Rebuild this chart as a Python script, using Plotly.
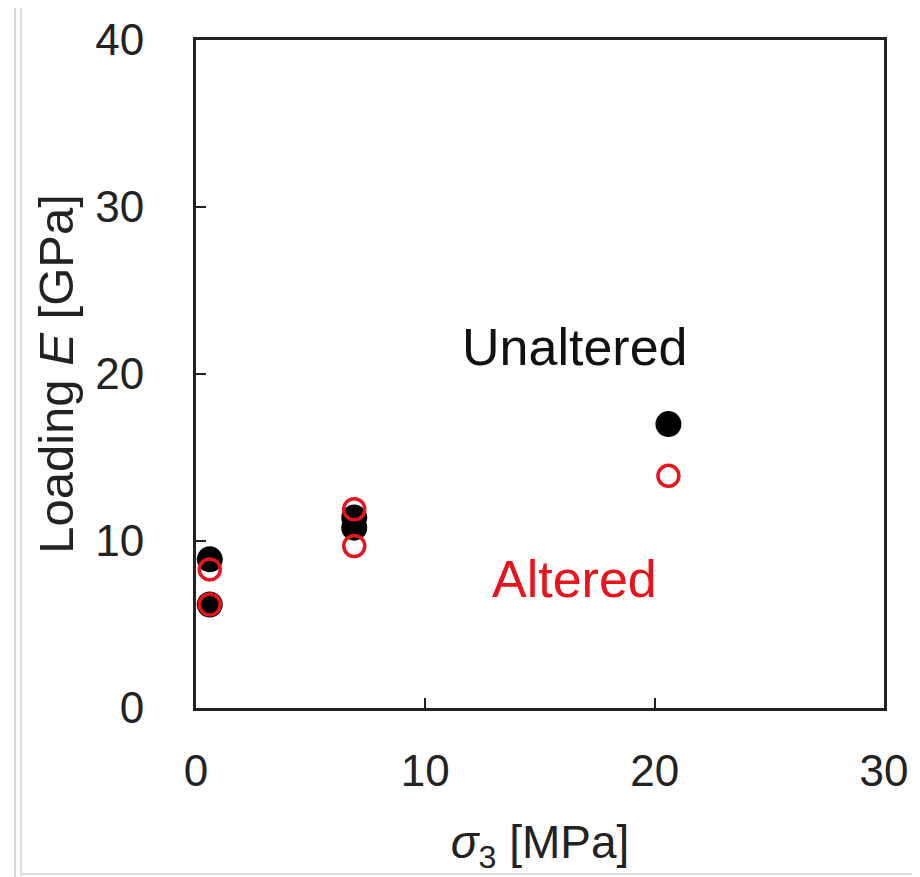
import plotly.graph_objects as go

unaltered_x = [0.6, 0.6, 6.9, 6.9, 20.6]
unaltered_y = [8.9, 6.2, 11.4, 10.8, 17.0]
altered_x = [0.6, 0.6, 6.9, 6.9, 20.6]
altered_y = [8.3, 6.2, 11.9, 9.7, 13.9]

x_ticks = [0, 10, 20, 30]
y_ticks = [0, 10, 20, 30, 40]

FONT = "Liberation Sans, Arial, sans-serif"
TXT = "#222222"

fig = go.Figure()
fig.add_trace(go.Scatter(
    x=unaltered_x, y=unaltered_y, mode="markers", name="Unaltered",
    marker=dict(symbol="circle", size=26, color="black", line=dict(width=0)),
    showlegend=False))
fig.add_trace(go.Scatter(
    x=altered_x, y=altered_y, mode="markers", name="Altered",
    marker=dict(symbol="circle-open", size=21, color="#e8141c", line=dict(width=3.5)),
    showlegend=False))

fig.add_annotation(x=16.5, y=21.6, text="Unaltered", showarrow=False,
                   font=dict(family=FONT, size=52, color="#111111"), xref="x", yref="y")
fig.add_annotation(x=16.5, y=7.7, text="Altered", showarrow=False,
                   font=dict(family=FONT, size=52, color="#e8141c"), xref="x", yref="y")

axis_common = dict(
    showgrid=False, zeroline=False, showline=True, linecolor="#222222", linewidth=3,
    mirror=True, ticks="inside", ticklen=10, tickwidth=2, tickcolor="#222222",
    tickfont=dict(family=FONT, size=44, color=TXT), automargin=False,
)

fig.update_layout(
    width=912, height=869,
    margin=dict(l=188, r=36, t=32, b=169),
    paper_bgcolor="white", plot_bgcolor="white",
    xaxis=dict(range=[0, 30], tickvals=x_ticks, ticklabelstandoff=22,
               title=dict(text="<i>σ</i><sub>3</sub> [MPa]", standoff=33,
                          font=dict(family=FONT, size=46, color=TXT)),
               **axis_common),
    yaxis=dict(range=[0, 40], tickvals=y_ticks, ticklabelstandoff=40,
               title=dict(text="Loading <i>E</i> [GPa]", standoff=7,
                          font=dict(family=FONT, size=49, color=TXT)),
               **axis_common),
    shapes=[
        dict(type="line", xref="paper", yref="paper", x0=-181/688, x1=-181/688,
             y0=-169/668, y1=40/668 + 1, line=dict(color="#d4d4d4", width=2)),
        dict(type="line", xref="paper", yref="paper", x0=-175/688, x1=-175/688,
             y0=-169/668, y1=40/668 + 1, line=dict(color="#e2e2e2", width=2)),
        dict(type="line", xref="paper", yref="paper", x0=-175/688, x1=1 + 36/688,
             y0=-166/668, y1=-166/668, line=dict(color="#dcdcdc", width=2)),
    ],
)

fig.write_html("out.html")
